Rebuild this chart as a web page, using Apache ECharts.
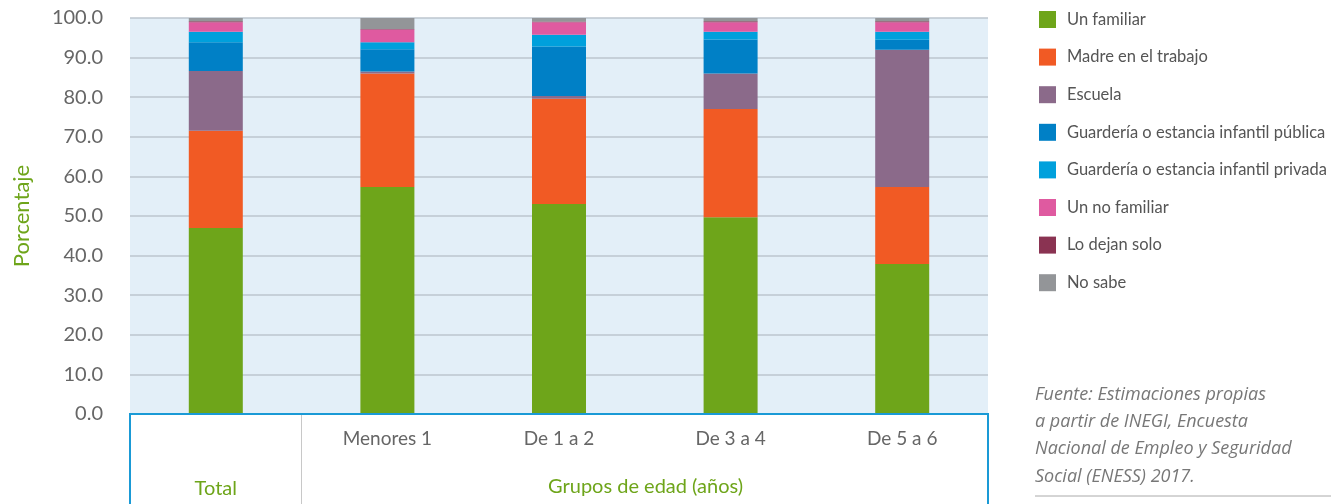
<!DOCTYPE html>
<html>
<head>
<meta charset="utf-8">
<title>Cuidado de niños</title>
<script src="https://cdn.jsdelivr.net/npm/echarts@6/dist/echarts.min.js"></script>
<style>
  html, body { margin: 0; padding: 0; background: #fff; }
  #main { width: 1343px; height: 504px; }
</style>
</head>
<body>
<div id="main"></div>
<script>
  const CATEGORIES = ['Total', 'Menores 1', 'De 1 a 2', 'De 3 a 4', 'De 5 a 6'];
  const SERIES_NAMES = [
    'Un familiar',
    'Madre en el trabajo',
    'Escuela',
    'Guardería o estancia infantil pública',
    'Guardería o estancia infantil privada',
    'Un no familiar',
    'Lo dejan solo',
    'No sabe'
  ];
  const UN_FAMILIAR = [47.0, 57.3, 53.0, 49.7, 37.9];
  const MADRE_TRABAJO = [24.5, 28.7, 26.6, 27.3, 19.4];
  const ESCUELA = [15.1, 0.5, 0.7, 9.0, 34.7];
  const GUARDERIA_PUBLICA = [7.3, 5.6, 12.5, 8.6, 2.5];
  const GUARDERIA_PRIVADA = [2.6, 1.8, 3.0, 1.9, 2.0];
  const NO_FAMILIAR = [2.4, 3.2, 3.1, 2.4, 2.4];
  const DEJAN_SOLO = [0.3, 0.1, 0.2, 0.3, 0.3];
  const NO_SABE = [0.8, 2.8, 0.9, 0.8, 0.8];
  const Y_TICKS = [0, 10, 20, 30, 40, 50, 60, 70, 80, 90, 100];

  const VALUES = [UN_FAMILIAR, MADRE_TRABAJO, ESCUELA, GUARDERIA_PUBLICA,
    GUARDERIA_PRIVADA, NO_FAMILIAR, DEJAN_SOLO, NO_SABE];
  const COLORS = ['#6ea51a', '#f15a24', '#8b6a8a', '#0080c6',
    '#00a0dc', '#df5aa0', '#8a3352', '#939598'];

  const FONT = 'Lato, "Noto Sans", sans-serif';
  const GREEN = '#6ea51a';

  // plot rectangle
  const LEFT = 130, TOP = 18, RIGHT_EDGE = 988, BOTTOM = 414;

  let myChart = echarts.init(document.getElementById('main'));

  let series = SERIES_NAMES.map(function (name, i) {
    return {
      name: name,
      type: 'bar',
      stack: 'total',
      barWidth: 54,
      itemStyle: { color: COLORS[i] },
      data: VALUES[i]
    };
  });

  let option = {
    animation: false,
    color: COLORS,
    grid: {
      left: LEFT, top: TOP, width: RIGHT_EDGE - LEFT, height: BOTTOM - TOP,
      show: true, backgroundColor: '#e3eff8', borderWidth: 0
    },
    legend: {
      orient: 'vertical',
      left: 1034, top: 6,
      itemWidth: 17, itemHeight: 17, itemGap: 20.6,
      icon: 'rect',
      textStyle: { fontFamily: FONT, fontSize: 16.5, color: '#555', padding: [0, 0, 0, 6] },
      data: SERIES_NAMES
    },
    xAxis: {
      type: 'category',
      data: CATEGORIES,
      axisLine: { show: false },
      axisTick: { show: false },
      axisLabel: {
        margin: 15,
        fontFamily: FONT, fontSize: 19, color: '#666',
        formatter: function (v, i) {
          return i === 0 ? '{t|' + v + '}' : v;
        },
        rich: {
          t: { fontFamily: FONT, fontSize: 20, color: GREEN, padding: [50, 0, 0, 0] }
        }
      }
    },
    yAxis: {
      type: 'value',
      min: Y_TICKS[0], max: Y_TICKS[Y_TICKS.length - 1], interval: 10,
      name: 'Porcentaje',
      nameLocation: 'middle',
      nameGap: 97,
      nameTextStyle: { fontFamily: FONT, fontSize: 22, color: GREEN },
      axisLine: { show: false },
      axisTick: { show: false },
      splitLine: { lineStyle: { color: '#bcc6cf', width: 1.5 } },
      axisLabel: {
        margin: 27,
        fontFamily: FONT, fontSize: 20, color: '#666',
        formatter: function (v) { return v.toFixed(1); }
      }
    },
    graphic: [
      {
        type: 'rect', silent: true, z: 10,
        shape: { x: LEFT, y: BOTTOM, width: RIGHT_EDGE - LEFT, height: 100 },
        style: { fill: 'none', stroke: '#1a9ad6', lineWidth: 2 }
      },
      {
        type: 'line', silent: true, z: 10,
        shape: { x1: 301.5, y1: BOTTOM + 1, x2: 301.5, y2: 504 },
        style: { stroke: '#c8c8c8', lineWidth: 1 }
      },
      {
        type: 'text', left: 548, top: 477,
        style: { text: 'Grupos de edad (años)', font: '20px ' + FONT, fill: GREEN }
      },
      {
        type: 'text', left: 1035, top: 381,
        style: {
          text: 'Fuente: Estimaciones propias\na partir de INEGI, Encuesta\nNacional de Empleo y Seguridad\nSocial (ENESS) 2017.',
          font: 'italic 18px "Open Sans", ' + FONT, fill: '#777', lineHeight: 27.3
        }
      },
      {
        type: 'line', silent: true,
        shape: { x1: 1035, y1: 496, x2: 1331, y2: 496 },
        style: { stroke: '#aaa', lineWidth: 1 }
      }
    ],
    series: series
  };

  myChart.setOption(option);
</script>
</body>
</html>
